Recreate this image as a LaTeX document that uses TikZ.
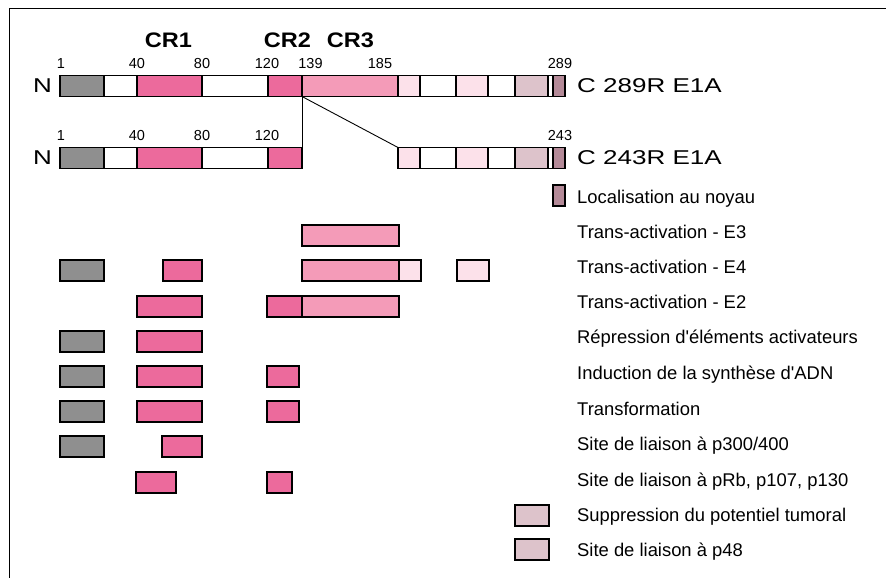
\documentclass[tikz,border=0pt]{standalone}
\usepackage{fontspec}
\setmainfont{Liberation Sans}
\usepackage{tikz}
\usetikzlibrary{positioning}
\definecolor{domgray}{HTML}{8F8F8F}
\definecolor{crpink}{HTML}{EC6A9C}
\definecolor{crthree}{HTML}{F49BB8}
\definecolor{palepink}{HTML}{FCE1EA}
\definecolor{mauve}{HTML}{DDC3CB}
\definecolor{darkmauve}{HTML}{B48A98}
% one box of the protein map: name, left x, right x, top y, fill
\newcommand{\seg}[5]{\node[seg,fill=#5,minimum width={(#3-#2)*1pt}] (#1) at (#2,#4) {};}
\newcommand{\wide}[2]{\scalebox{#1}[1]{#2}}

\begin{document}
\begin{tikzpicture}[x=1pt,y=-1pt,
  seg/.style={draw,line width=1.1pt,inner sep=0pt,outer sep=0pt,anchor=north west,
    minimum height=21pt},
  num/.style={inner sep=0pt,anchor=base,font=\fontsize{14.5}{16}\selectfont},
  term/.style={inner sep=0pt,font=\fontsize{20}{22}\selectfont},
  crlbl/.style={inner sep=0pt,anchor=base,font=\fontsize{21}{23}\selectfont\bfseries},
  legend/.style={inner sep=0pt,anchor=base west,font=\fontsize{18.4}{20}\selectfont},
  link/.style={line width=0.9pt}]
\useasboundingbox (0,0) rectangle (886,578);
\draw[line width=1.5pt] (9.5,578) |- (886,8.5);

% 289R
\seg{long1}{60}{104}{75.5}{domgray}
\seg{long2}{104}{137}{75.5}{white}
\seg{long3}{137}{202}{75.5}{crpink}
\seg{long4}{202}{268}{75.5}{white}
\seg{long5}{268}{302}{75.5}{crpink}
\seg{long6}{302}{398}{75.5}{crthree}
\seg{long7}{398}{420}{75.5}{palepink}
\seg{long8}{420}{456}{75.5}{white}
\seg{long9}{456}{488}{75.5}{palepink}
\seg{long10}{488}{515}{75.5}{white}
\seg{long11}{515}{548}{75.5}{mauve}
\seg{long12}{548}{553}{75.5}{white}
\seg{long13}{553}{565}{75.5}{darkmauve}

% 243R
\seg{short1}{60}{104}{147.5}{domgray}
\seg{short2}{104}{137}{147.5}{white}
\seg{short3}{137}{202}{147.5}{crpink}
\seg{short4}{202}{268}{147.5}{white}
\seg{short5}{268}{302}{147.5}{crpink}
\seg{short6}{398}{420}{147.5}{palepink}
\seg{short7}{420}{456}{147.5}{white}
\seg{short8}{456}{488}{147.5}{palepink}
\seg{short9}{488}{515}{147.5}{white}
\seg{short10}{515}{548}{147.5}{mauve}
\seg{short11}{548}{553}{147.5}{white}
\seg{short12}{553}{565}{147.5}{darkmauve}

\node[term,anchor=east] (nlong) at ([xshift=-8pt]long1.west) {\wide{1.3}{N}};
\node[term,anchor=west] (clong) at ([xshift=12pt]long13.east) {\wide{1.3}{C 289R E1A}};
\node[term,anchor=east] (nshort) at ([xshift=-8pt]short1.west) {\wide{1.3}{N}};
\node[term,anchor=west] (cshort) at ([xshift=12pt]short12.east) {\wide{1.3}{C 243R E1A}};

\node[crlbl] (cr1) at (168.5,48) {\wide{1.12}{CR1}};
\node[crlbl] (cr2) at (287.5,48) {\wide{1.12}{CR2}};
\node[crlbl] (cr3) at (350.5,48) {\wide{1.12}{CR3}};

\node[num] (p1) at (61,68) {1};
\node[num] (p40) at (137,68) {40};
\node[num] (p80) at (202,68) {80};
\node[num] (p120) at (267,68) {120};
\node[num] (p139) at (310.5,68) {139};
\node[num] (p185) at (380,68) {185};
\node[num] (p289) at (560,68) {289};
\node[num] (q1) at (61,140) {1};
\node[num] (q40) at (137,140) {40};
\node[num] (q80) at (202,140) {80};
\node[num] (q120) at (267,140) {120};
\node[num] (q243) at (560,140) {243};

% splice between the two forms
\draw[link] (long6.south west) -- (short5.north east);
\draw[link] (long6.south west) -- (short6.north west);

% functions
\seg{loc}{553}{565}{185}{darkmauve}
\seg{e3c}{302}{399}{225}{crthree}
\seg{e4n}{60}{104}{260}{domgray}
\seg{e4a}{163}{202}{260}{crpink}
\seg{e4c}{302}{399}{260}{crthree}
\seg{e4d}{399}{421}{260}{palepink}
\seg{e4e}{457}{489}{260}{palepink}
\seg{e2a}{137}{202}{296}{crpink}
\seg{e2b}{267}{302}{296}{crpink}
\seg{e2c}{302}{399}{296}{crthree}
\seg{repn}{60}{104}{331}{domgray}
\seg{repa}{137}{202}{331}{crpink}
\seg{indn}{60}{104}{366}{domgray}
\seg{inda}{137}{202}{366}{crpink}
\seg{indb}{267}{299}{366}{crpink}
\seg{trn}{60}{104}{401}{domgray}
\seg{tra}{137}{202}{401}{crpink}
\seg{trb}{267}{299}{401}{crpink}
\seg{ptn}{60}{104}{436}{domgray}
\seg{pta}{162}{202}{436}{crpink}
\seg{rba}{136}{176}{472}{crpink}
\seg{rbb}{267}{292}{472}{crpink}
\seg{sup}{515}{549}{505}{mauve}
\seg{pfe}{515}{549}{539}{mauve}

\node[legend] (lloc) at (577,203) {Localisation au noyau};
\node[legend] (le3) at (577,238) {Trans-activation - E3};
\node[legend] (le4) at (577,273) {Trans-activation - E4};
\node[legend] (le2) at (577,308) {Trans-activation - E2};
\node[legend] (lrep) at (577,343.5) {Répression d\textquotesingle éléments activateurs};
\node[legend] (lind) at (577,379.5) {Induction de la synthèse d\textquotesingle ADN};
\node[legend] (ltr) at (577,415) {Transformation};
\node[legend] (lpt) at (577,450.5) {Site de liaison à p300/400};
\node[legend] (lrb) at (577,486) {Site de liaison à pRb, p107, p130};
\node[legend] (lsup) at (577,521) {Suppression du potentiel tumoral};
\node[legend] (lpfe) at (577,556) {Site de liaison à p48};
\end{tikzpicture}
\end{document}
